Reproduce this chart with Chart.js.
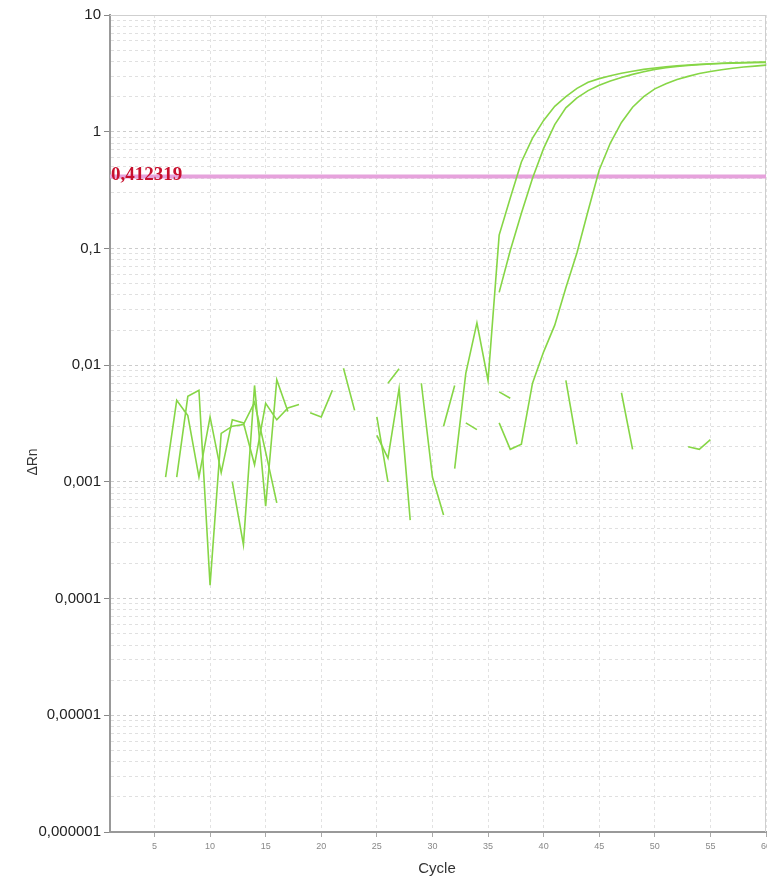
<!DOCTYPE html>
<html>
<head>
<meta charset="utf-8">
<script src="https://cdn.jsdelivr.net/npm/chart.js@4"></script>
<style>
  html, body { margin: 0; padding: 0; background: #fff; }
  #wrap { width: 767px; height: 879px; position: relative; }
</style>
</head>
<body>
<div id="wrap"><canvas id="amp"></canvas></div>
<script>
// axis ticks
const cycleTicks = [5, 10, 15, 20, 25, 30, 35, 40, 45, 50, 55, 60];
const yDecades = [0.000001, 0.00001, 0.0001, 0.001, 0.01, 0.1, 1, 10];
const yTickLabels = ['0,000001', '0,00001', '0,0001', '0,001', '0,01', '0,1', '1', '10'];
const threshold = 0.412319;
const thresholdLabel = '0,412319';

// amplified wells  [cycle, ΔRn]
const wellA = [[32,0.0013],[33,0.0085],[34,0.023],[35,0.0074],[36,0.13],[37,0.27],[38,0.55],[39,0.88],[40,1.25],
  [41,1.65],[42,2.0],[43,2.35],[44,2.65],[45,2.85],[46,3.02],[47,3.17],[48,3.3],[49,3.42],[50,3.52],
  [51,3.6],[52,3.67],[53,3.73],[54,3.78],[55,3.82],[56,3.86],[57,3.89],[58,3.91],[59,3.93],[60,3.95]];
const wellB = [[36,0.042],[37,0.096],[38,0.2],[39,0.4],[40,0.72],[41,1.15],[42,1.6],[43,1.95],[44,2.25],
  [45,2.5],[46,2.72],[47,2.92],[48,3.1],[49,3.27],[50,3.42],[51,3.53],[52,3.62],[53,3.69],[54,3.75],
  [55,3.8],[56,3.84],[57,3.87],[58,3.9],[59,3.92],[60,3.93]];
const wellC = [[36,0.0032],[37,0.0019],[38,0.0021],[39,0.007],[40,0.013],[41,0.022],[42,0.046],[43,0.092],
  [44,0.21],[45,0.47],[46,0.8],[47,1.2],[48,1.62],[49,2.0],[50,2.33],[51,2.58],[52,2.8],[53,2.98],
  [54,3.15],[55,3.28],[56,3.4],[57,3.5],[58,3.58],[59,3.65],[60,3.72]];

// background wells (negative values not shown on log scale -> null)
const noise1 = [[6,0.0011],[7,0.005],[8,0.0037],[9,0.0011],[10,0.0036],[11,0.0012],[12,0.0034],[13,0.0032],
  [14,0.0014],[15,0.0047],[16,0.0034],[17,0.0043],[18,0.0046]];
const noise2 = [[7,0.0011],[8,0.0054],[9,0.0061],[10,0.00013],[11,0.0026],[12,0.003],[13,0.0031],
  [14,0.0048],[15,0.0018],[16,0.00066]];
const noise3 = [[12,0.001],[13,0.00029],[14,0.0067],[15,0.00062],[16,0.0075],[17,0.004]];
const noise4 = [[19,0.0039],[20,0.0036],[21,0.0061],[22,null],[25,0.0036],[26,0.001],[27,null],
  [29,0.007],[30,0.0011],[31,0.00052],[32,null],[36,0.0059],[37,0.0052],[38,null],[42,0.0074],[43,0.0021],
  [44,null],[47,0.0058],[48,0.0019],[49,null],[53,0.002],[54,0.0019],[55,0.0023]];
const noise5 = [[22,0.0094],[23,0.0041],[24,null],[25,0.0025],[26,0.0016],[27,0.0063],[28,0.00047],
  [29,null],[33,0.0032],[34,0.0028]];
const noise6 = [[26,0.007],[27,0.0093],[28,null],[31,0.003],[32,0.0067]];

const GREEN = '#86d646';
const toPts = arr => arr.map(p => ({ x: p[0], y: p[1] }));

// log grid values 1..9 per decade
const yGrid = [];
yDecades.forEach((d, i) => {
  const last = i === yDecades.length - 1;
  for (let m = 1; m <= (last ? 1 : 9); m++) {
    yGrid.push({ value: Number((m * d).toPrecision(3)), major: m === 1 });
  }
});

const wells = [noise1, noise2, noise3, noise4, noise5, noise6, wellC, wellB, wellA];
const datasets = wells.map(w => ({
  data: toPts(w),
  borderColor: GREEN,
  borderWidth: 1.6,
  pointRadius: 0,
  tension: 0,
  spanGaps: false,
  order: 0
}));
datasets.push({
  data: [{ x: 1, y: threshold }, { x: 60, y: threshold }],
  borderColor: '#e6a2dc',
  borderWidth: 4,
  pointRadius: 0,
  order: 5
});

const overlay = {
  id: 'overlay',
  beforeDatasetsDraw(chart) {
    const { ctx, chartArea: a } = chart;
    ctx.save();
    ctx.strokeStyle = '#cfcfcf';
    ctx.lineWidth = 1;
    ctx.beginPath();
    ctx.moveTo(a.left, a.top + 0.5);
    ctx.lineTo(a.right - 0.5, a.top + 0.5);
    ctx.lineTo(a.right - 0.5, a.bottom);
    ctx.stroke();
    ctx.restore();
  },
  afterDatasetsDraw(chart) {
    const { ctx, chartArea: a, scales } = chart;
    const yp = scales.y.getPixelForValue(threshold);
    ctx.save();
    ctx.fillStyle = '#c8102e';
    ctx.font = 'bold 19px "Liberation Serif", "Times New Roman", serif';
    ctx.textAlign = 'left';
    ctx.textBaseline = 'alphabetic';
    ctx.fillText(thresholdLabel, a.left + 1, yp + 3);
    ctx.restore();
  },
  afterDraw(chart) {
    const { ctx, chartArea: a } = chart;
    ctx.save();
    ctx.fillStyle = '#333';
    ctx.textAlign = 'center';
    ctx.textBaseline = 'middle';
    ctx.font = '15px "Liberation Sans", Arial, sans-serif';
    ctx.fillText('Cycle', 437, 869);
    ctx.translate(33, 462);
    ctx.rotate(-Math.PI / 2);
    ctx.font = '14px "Liberation Sans", Arial, sans-serif';
    ctx.fillText('ΔRn', 0, 0);
    ctx.restore();
  }
};

new Chart(document.getElementById('amp'), {
  type: 'line',
  data: { datasets: datasets },
  plugins: [overlay],
  options: {
    responsive: true,
    maintainAspectRatio: false,
    animation: false,
    layout: { padding: { left: 0, top: 15, right: 1, bottom: 0 } },
    plugins: { legend: { display: false }, tooltip: { enabled: false } },
    scales: {
      x: {
        type: 'linear',
        min: 1,
        max: 60,
        afterBuildTicks: s => { s.ticks = cycleTicks.map(v => ({ value: v })); },
        afterFit: s => { s.height = 47; s.paddingRight = 0; s.paddingLeft = 0; },
        ticks: {
          autoSkip: false,
          maxRotation: 0,
          padding: 4,
          color: '#888',
          font: { size: 9, family: '"Liberation Sans", Arial, sans-serif' }
        },
        grid: { color: '#e2e2e2', lineWidth: 1, tickLength: 5, tickColor: '#aaa' },
        border: { color: '#999', width: 2, dash: [3, 3] }
      },
      y: {
        type: 'logarithmic',
        min: 0.000001,
        max: 10,
        afterBuildTicks: s => { s.ticks = yGrid.map(t => ({ value: t.value, major: t.major })); },
        afterFit: s => { s.width = 110; s.paddingTop = 0; s.paddingBottom = 0; },
        ticks: {
          autoSkip: false,
          padding: 3,
          color: '#222',
          font: { size: 15, family: '"Liberation Sans", Arial, sans-serif' },
          callback: (v) => {
            const i = yDecades.findIndex(d => Math.abs(d - v) / d < 1e-6);
            return i >= 0 ? yTickLabels[i] : '';
          }
        },
        grid: {
          lineWidth: 1,
          tickLength: 6,
          color: c => (c.tick && c.tick.major) ? '#cccccc' : '#e0e0e0',
          tickColor: c => (c.tick && c.tick.major) ? '#888' : 'rgba(0,0,0,0)'
        },
        border: { color: '#999', width: 2, dash: [3, 3] }
      }
    }
  }
});
</script>
</body>
</html>
